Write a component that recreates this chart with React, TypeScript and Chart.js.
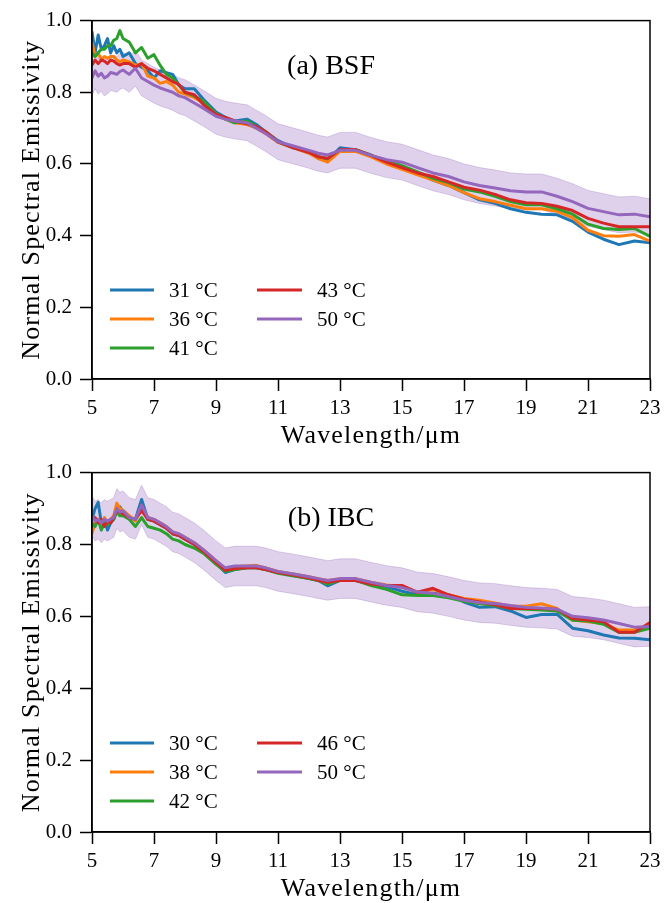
import React, { useEffect, useRef } from "react";
import { Chart, registerables } from "chart.js";

Chart.register(...registerables);

// ---------- data ----------
const WAVELENGTH = [
  5.0, 5.1, 5.2, 5.3, 5.4, 5.5, 5.6, 5.7, 5.8, 5.9, 6.0,
  6.2, 6.4, 6.6, 6.8, 7.0, 7.2, 7.4, 7.6, 7.8, 8.0,
  8.3, 8.6, 9.0, 9.3, 9.6, 10.0, 10.3, 10.6,
  11.0, 11.5, 12.0, 12.3, 12.6, 13.0,
  13.5, 14.0, 14.5, 15.0, 15.5, 16.0, 16.5, 17.0, 17.5, 18.0,
  18.5, 19.0, 19.5, 20.0, 20.5, 21.0, 21.5, 22.0, 22.5, 23.0,
];

const X_TICKS = [5, 7, 9, 11, 13, 15, 17, 19, 21, 23];
const Y_TICKS = [0.0, 0.2, 0.4, 0.6, 0.8, 1.0];

const BSF_LABELS = ["31 °C", "36 °C", "41 °C", "43 °C", "50 °C"];
const BSF_31 = [0.97,0.91,0.96,0.92,0.93,0.95,0.91,0.93,0.91,0.92,0.90, 0.91,0.88,0.87,0.86,0.84,0.86,0.855,0.85,0.82,0.81, 0.81,0.78, 0.745,0.73,0.72, 0.725,0.71,0.69, 0.665,0.645,0.635,0.62,0.61,0.645, 0.64,0.625,0.605,0.59,0.575,0.555,0.54,0.52,0.50,0.49,0.475,0.465,0.46,0.458,0.44,0.41,0.39,0.375,0.385,0.38];
const BSF_36 = [0.94,0.90,0.91,0.89,0.90,0.895,0.90,0.90,0.89,0.885,0.89, 0.885,0.875,0.88,0.845,0.84,0.825,0.83,0.82,0.80,0.795, 0.785,0.77, 0.74,0.725,0.715, 0.71,0.70,0.685, 0.66,0.645,0.63,0.615,0.605,0.635, 0.635,0.62,0.60,0.585,0.57,0.555,0.54,0.52,0.503,0.495,0.485,0.475,0.475,0.468,0.45,0.415,0.40,0.398,0.403,0.385];
const BSF_41 = [0.91,0.90,0.91,0.92,0.92,0.93,0.93,0.945,0.95,0.972,0.95, 0.94,0.91,0.925,0.895,0.905,0.875,0.85,0.84,0.82,0.80, 0.79,0.775, 0.74,0.725,0.715, 0.72,0.705,0.69, 0.662,0.645,0.635,0.62,0.615,0.64, 0.64,0.624,0.61,0.595,0.578,0.56,0.548,0.53,0.522,0.51,0.495,0.486,0.486,0.475,0.46,0.432,0.42,0.417,0.42,0.398];
const BSF_43 = [0.876,0.89,0.88,0.89,0.887,0.88,0.89,0.887,0.88,0.876,0.88, 0.88,0.87,0.88,0.867,0.86,0.85,0.84,0.83,0.822,0.80, 0.793,0.765, 0.738,0.73,0.72, 0.712,0.705,0.69, 0.662,0.645,0.632,0.62,0.615,0.64, 0.64,0.624,0.605,0.59,0.575,0.565,0.55,0.535,0.527,0.515,0.50,0.492,0.49,0.482,0.47,0.448,0.435,0.425,0.425,0.425];
const BSF_50 = [0.84,0.86,0.845,0.853,0.84,0.845,0.855,0.853,0.85,0.858,0.862, 0.85,0.867,0.84,0.83,0.82,0.812,0.806,0.80,0.79,0.785, 0.77,0.755, 0.733,0.725,0.72, 0.715,0.70,0.685, 0.662,0.65,0.638,0.63,0.625,0.638, 0.638,0.624,0.612,0.605,0.59,0.575,0.565,0.55,0.54,0.533,0.525,0.522,0.522,0.51,0.495,0.476,0.467,0.458,0.46,0.453];
const BSF_BAND_HALF_WIDTH = 0.05;

const IBC_LABELS = ["30 °C", "38 °C", "42 °C", "46 °C", "50 °C"];
const IBC_30 = [0.87,0.90,0.917,0.86,0.87,0.84,0.86,0.87,0.90,0.905,0.89, 0.875,0.87,0.925,0.87,0.865,0.855,0.845,0.83,0.825,0.815, 0.80,0.78, 0.748,0.722,0.73, 0.735,0.735,0.73, 0.722,0.715,0.705,0.70,0.685,0.70, 0.70,0.69,0.683,0.67,0.66,0.664,0.66,0.64,0.625,0.627,0.615,0.597,0.605,0.606,0.567,0.56,0.548,0.54,0.539,0.535];
const IBC_38 = [0.83,0.86,0.87,0.85,0.875,0.86,0.87,0.88,0.915,0.90,0.895, 0.88,0.865,0.905,0.875,0.87,0.86,0.85,0.835,0.83,0.82, 0.805,0.785, 0.755,0.732,0.738, 0.74,0.742,0.735, 0.725,0.718,0.71,0.705,0.70,0.705, 0.705,0.695,0.687,0.683,0.667,0.675,0.66,0.65,0.645,0.637,0.628,0.628,0.635,0.622,0.59,0.585,0.58,0.562,0.562,0.572];
const IBC_42 = [0.86,0.85,0.87,0.84,0.86,0.855,0.865,0.87,0.89,0.88,0.88, 0.87,0.85,0.875,0.85,0.845,0.84,0.83,0.815,0.81,0.80, 0.79,0.775, 0.745,0.725,0.73, 0.735,0.735,0.73, 0.72,0.712,0.705,0.70,0.69,0.70, 0.70,0.686,0.675,0.66,0.658,0.658,0.652,0.642,0.635,0.63,0.622,0.62,0.618,0.615,0.589,0.587,0.578,0.555,0.556,0.567];
const IBC_46 = [0.87,0.875,0.86,0.87,0.85,0.865,0.86,0.875,0.895,0.89,0.885, 0.875,0.87,0.895,0.87,0.865,0.855,0.845,0.83,0.825,0.815, 0.80,0.78, 0.75,0.728,0.733, 0.735,0.735,0.73, 0.722,0.715,0.707,0.70,0.695,0.70, 0.70,0.69,0.686,0.686,0.667,0.678,0.66,0.648,0.64,0.632,0.622,0.622,0.622,0.62,0.594,0.59,0.585,0.556,0.556,0.583];
const IBC_50 = [0.88,0.865,0.87,0.86,0.87,0.865,0.87,0.875,0.90,0.89,0.894, 0.875,0.87,0.91,0.875,0.87,0.86,0.85,0.835,0.83,0.82, 0.805,0.785, 0.755,0.735,0.74, 0.74,0.74,0.735, 0.725,0.718,0.71,0.705,0.70,0.705, 0.705,0.695,0.686,0.68,0.668,0.664,0.655,0.645,0.638,0.636,0.63,0.625,0.623,0.62,0.60,0.596,0.59,0.58,0.57,0.572];
const IBC_BAND_HALF_WIDTH = 0.055;

const COLORS = ["#1f77b4", "#ff7f0e", "#2ca02c", "#d62728", "#9467bd"];
const BAND_COLOR = "rgba(148,103,189,0.3)";

const FONT = "'Liberation Serif', 'Times New Roman', serif";
const Y_TITLE = "Normal Spectral Emissivity";
const X_TITLE = "Wavelength/\u03bcm";

type PanelSpec = {
  series: number[][];
  labels: string[];
  band: number;
  tag: string;
  canvasHeight: number;
  padTop: number;
  xAxisHeight: number;
};

function makeConfig(spec: PanelSpec): any {
  const purple = spec.series[4];
  const datasets: any[] = [
    {
      label: "band-upper",
      data: WAVELENGTH.map((x, i) => ({ x, y: purple[i] + spec.band })),
      borderColor: BAND_COLOR,
      borderWidth: 1,
      pointRadius: 0,
      fill: false,
      order: 10,
    },
    {
      label: "band-lower",
      data: WAVELENGTH.map((x, i) => ({ x, y: purple[i] - spec.band })),
      borderColor: BAND_COLOR,
      borderWidth: 1,
      backgroundColor: BAND_COLOR,
      pointRadius: 0,
      fill: "-1",
      order: 10,
    },
    ...spec.series.map((s, k) => ({
      label: spec.labels[k],
      data: WAVELENGTH.map((x, i) => ({ x, y: s[i] })),
      borderColor: COLORS[k],
      backgroundColor: COLORS[k],
      borderWidth: 3,
      borderJoinStyle: "round",
      borderCapStyle: "butt",
      pointRadius: 0,
      fill: false,
      tension: 0,
      order: 5 - k,
    })),
  ];

  const decorations = {
    id: "decorations",
    afterDraw(chart: any) {
      const { ctx, chartArea } = chart;
      const { left, right, top, bottom } = chartArea;
      ctx.save();
      // frame
      ctx.strokeStyle = "#000";
      ctx.lineWidth = 1.5;
      ctx.strokeRect(left, top, right - left, bottom - top);

      ctx.fillStyle = "#000";
      // annotation
      ctx.font = `28px ${FONT}`;
      ctx.textAlign = "center";
      ctx.textBaseline = "middle";
      ctx.fillText(spec.tag, 331, top + 46);

      // axis titles
      (ctx as any).letterSpacing = "1.2px";
      ctx.font = `26px ${FONT}`;
      ctx.fillText(X_TITLE, (left + right) / 2, bottom + 57);
      ctx.save();
      ctx.translate(32, (top + bottom) / 2);
      ctx.rotate(-Math.PI / 2);
      ctx.fillText(Y_TITLE, 0, 0);
      ctx.restore();
      (ctx as any).letterSpacing = "0px";

      // legend (two columns, column-major)
      ctx.font = `21px ${FONT}`;
      ctx.textAlign = "left";
      const rowYs = [bottom - 89, bottom - 60, bottom - 31];
      const cols = [
        { x0: 110, x1: 154, tx: 169 },
        { x0: 257, x1: 302, tx: 317 },
      ];
      const lineSets = chart.data.datasets.slice(2);
      lineSets.forEach((ds: any, k: number) => {
        const col = cols[Math.floor(k / 3)];
        const y = rowYs[k % 3];
        ctx.strokeStyle = ds.borderColor;
        ctx.lineWidth = 3;
        ctx.beginPath();
        ctx.moveTo(col.x0, y);
        ctx.lineTo(col.x1, y);
        ctx.stroke();
        ctx.fillStyle = "#000";
        ctx.fillText(ds.label, col.tx, y + 1);
      });
      ctx.restore();
    },
  };

  const axisCommon = {
    grid: {
      drawOnChartArea: false,
      drawTicks: true,
      tickLength: 12,
      tickWidth: 1.5,
      tickColor: "#000",
    },
    border: { display: true, color: "#000", width: 1.5 },
  };

  return {
    type: "line",
    data: { datasets },
    plugins: [decorations],
    options: {
      animation: false,
      responsive: false,
      maintainAspectRatio: false,
      devicePixelRatio: 1,
      layout: { padding: { left: 0, right: 22, top: spec.padTop, bottom: 0 } },
      plugins: {
        legend: { display: false },
        tooltip: { enabled: false },
      },
      scales: {
        x: {
          type: "linear",
          min: 5,
          max: 23,
          afterBuildTicks: (s: any) => {
            s.ticks = X_TICKS.map((v) => ({ value: v }));
          },
          afterFit: (s: any) => {
            s.height = spec.xAxisHeight;
          },
          ticks: {
            color: "#000",
            font: { family: FONT, size: 21 },
            padding: 5,
            maxRotation: 0,
            autoSkip: false,
          },
          ...axisCommon,
        },
        y: {
          type: "linear",
          min: 0,
          max: 1,
          afterBuildTicks: (s: any) => {
            s.ticks = Y_TICKS.map((v) => ({ value: v }));
          },
          afterFit: (s: any) => {
            s.width = 92;
          },
          ticks: {
            color: "#000",
            font: { family: FONT, size: 21 },
            padding: 8,
            callback: (v: any) => Number(v).toFixed(1),
          },
          ...axisCommon,
        },
      },
    },
  };
}

function Panel({ spec }: { spec: PanelSpec }) {
  const ref = useRef<HTMLCanvasElement | null>(null);
  useEffect(() => {
    if (!ref.current) return;
    const chart = new Chart(ref.current, makeConfig(spec));
    return () => chart.destroy();
  }, [spec]);
  return (
    <canvas
      ref={ref}
      width={672}
      height={spec.canvasHeight}
      style={{ display: "block", width: 672, height: spec.canvasHeight }}
    />
  );
}

const BSF_SPEC: PanelSpec = {
  series: [BSF_31, BSF_36, BSF_41, BSF_43, BSF_50],
  labels: BSF_LABELS,
  band: BSF_BAND_HALF_WIDTH,
  tag: "(a) BSF",
  canvasHeight: 452,
  padTop: 17,
  xAxisHeight: 73,
};

const IBC_SPEC: PanelSpec = {
  series: [IBC_30, IBC_38, IBC_42, IBC_46, IBC_50],
  labels: IBC_LABELS,
  band: IBC_BAND_HALF_WIDTH,
  tag: "(b) IBC",
  canvasHeight: 451,
  padTop: 20,
  xAxisHeight: 71,
};

export default function App() {
  return (
    <div
      style={{
        position: "absolute",
        left: 0,
        top: 0,
        width: 672,
        height: 903,
        background: "#fff",
      }}
    >
      <Panel spec={BSF_SPEC} />
      <Panel spec={IBC_SPEC} />
    </div>
  );
}
